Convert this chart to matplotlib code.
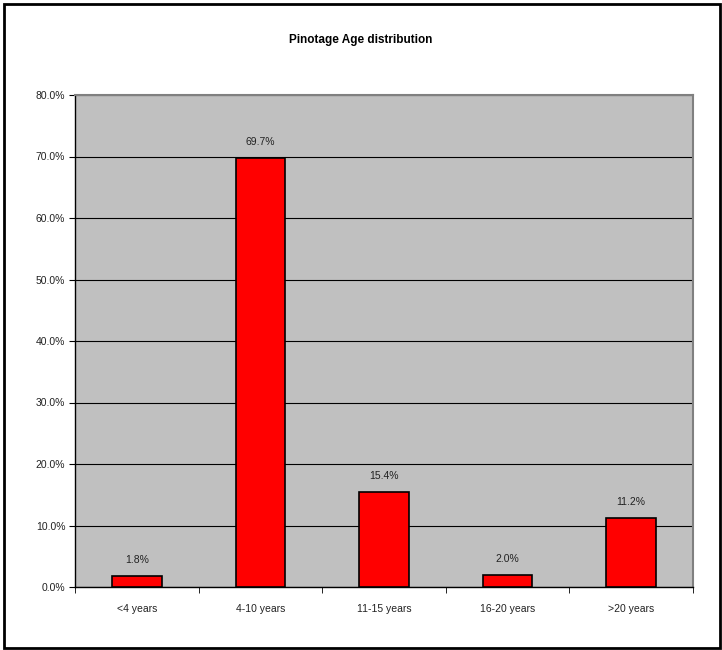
import matplotlib.pyplot as plt
from matplotlib.patches import Rectangle
import numpy as np

categories = ["<4 years", "4-10 years", "11-15 years", "16-20 years", ">20 years"]
shares = [1.8, 69.7, 15.4, 2.0, 11.2]
yticks = [0, 10, 20, 30, 40, 50, 60, 70, 80]

plt.rcParams["font.family"] = ["Liberation Sans", "DejaVu Sans"]

fig = plt.figure(figsize=(7.22, 6.5), dpi=100)
ax = fig.add_axes([75 / 722, 1 - 587 / 650, 618 / 722, 492 / 650])

# outer chart border
fig.patches.append(Rectangle((4 / 722, 2 / 650), 716 / 722, 644 / 650, transform=fig.transFigure,
                             fill=False, edgecolor="black", linewidth=2))

x = np.arange(len(categories))
ax.set_facecolor("#C0C0C0")
ax.set_axisbelow(True)
ax.yaxis.grid(True, color="black", linewidth=0.8)
ax.bar(x, shares, width=0.4, color="#FF0000", edgecolor="black", linewidth=1.2, zorder=3)

for xi, v in zip(x, shares):
    ax.annotate(f"{v:.1f}%", (xi, v), xytext=(0, 8), textcoords="offset points",
                ha="center", va="bottom", fontsize=7.5, color="#222222")

ax.set_xlim(-0.5, len(categories) - 0.5)
ax.set_ylim(0, 80)
ax.set_yticks(yticks)
ax.set_yticklabels([f"{t:.1f}%" for t in yticks], fontsize=7.5, color="#222222")
ax.set_xticks(x)
ax.set_xticklabels(categories, fontsize=7.5, color="#222222")
ax.tick_params(axis="x", length=0, pad=12)
ax.set_xticks(np.arange(len(categories) + 1) - 0.5, minor=True)
ax.tick_params(axis="x", which="minor", length=4, direction="out", color="black")
ax.tick_params(axis="y", length=4, direction="out", pad=3)

for side in ["top", "right"]:
    ax.spines[side].set_color("#808080")
    ax.spines[side].set_linewidth(1.5)
for side in ["left", "bottom"]:
    ax.spines[side].set_color("black")
    ax.spines[side].set_linewidth(1)

fig.text(0.5, 1 - 40 / 650, "Pinotage Age distribution", ha="center", va="center",
         fontsize=8.5, fontweight="bold")

fig.savefig("out.png", dpi=100)
